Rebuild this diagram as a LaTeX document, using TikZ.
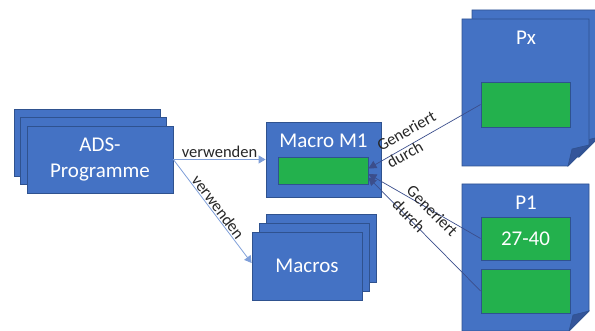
\documentclass[tikz,border=0pt]{standalone}
\usepackage{fontspec}
\setmainfont{Carlito}
\usepackage{xcolor}
\definecolor{OfficeBlue}{HTML}{4472C4}
\definecolor{OfficeEdge}{HTML}{2F528F}
\definecolor{OfficeGreen}{HTML}{23B14D}
\definecolor{UseLine}{HTML}{7F9FD9}
\definecolor{GenLine}{HTML}{3B4E8C}
\definecolor{FoldBlue}{HTML}{34559A}
\usetikzlibrary{arrows.meta,positioning,calc}

\begin{document}
\begin{tikzpicture}[x=1pt,y=-1pt,>=Triangle,
block/.style={draw=OfficeEdge,line width=0.8pt,fill=OfficeBlue,text=white,align=center,inner sep=0pt,font=\fontsize{21}{26}\selectfont},
field/.style={draw=OfficeEdge,line width=0.8pt,fill=OfficeGreen,text=white,minimum width=89pt,inner sep=0pt,font=\fontsize{21}{26}\selectfont},
page/.style={draw=OfficeEdge,line width=0.8pt,fill=OfficeBlue},
fold/.style={draw=OfficeEdge,line width=0.6pt,fill=FoldBlue},
uses/.style={draw=UseLine,line width=0.8pt,-{Triangle[length=7pt,width=8pt]}},
gen/.style={draw=GenLine,line width=0.7pt,-{Triangle[length=8pt,width=8pt]}},
rel/.style={font=\fontsize{16.5}{20}\selectfont,text=black!85,align=center,inner sep=1pt},
genrel/.style={rel,align=left}]
\clip (0,0) rectangle (595,331);

% ADS programs, stacked
\node[block,minimum width=146pt,minimum height=67pt] (adsback) at (87,142.5) {};
\node[block,minimum width=146pt,minimum height=67pt] (adsmid) at (93.5,151) {};
\node[block,minimum width=146pt,minimum height=67pt] (ads) at (100,159.5) {ADS-\\Programme};

% macro M1 with its field
\node[block,minimum width=115pt,minimum height=75pt] (m1) at (323.5,159.5) {};
\node[block,draw=none,fill=none] (m1title) at (323.5,141) {Macro M1};
\node[field,minimum width=90pt,minimum height=27pt] (m1field) at (323,170.5) {};

% macro library, stacked
\node[block,minimum width=110pt,minimum height=68pt] (macback) at (321,248) {};
\node[block,minimum width=110pt,minimum height=68pt] (macmid) at (314,257) {};
\node[block,minimum width=110pt,minimum height=68pt] (macros) at (307,266) {Macros};

% page Px (two sheets, folded corner)
\draw[page] (472,10) -- (599,10) -- (599,137) -- (579,157) -- (472,157) -- cycle;
\draw[fold] (599,137) -- (579,157) -- (583,141) -- cycle;
\draw[page] (462,19) -- (589,19) -- (589,145) -- (568,166) -- (462,166) -- cycle;
\draw[fold] (589,145) -- (568,166) -- (572,149) -- cycle;
\node[block,draw=none,fill=none] (pxtitle) at (526,37.5) {Px};
\node[field,minimum height=45pt] (pxfield) at (525.5,104.5) {};

% page P1
\draw[page] (462,184) -- (589,184) -- (589,311) -- (569,331) -- (462,331) -- cycle;
\draw[fold] (589,311) -- (569,331) -- (573,315) -- cycle;
\node[block,draw=none,fill=none] (p1title) at (526,203) {P1};
\node[field,minimum height=43pt] (p1a) at (525.5,238.5) {27-40};
\node[field,minimum height=44pt] (p1b) at (525.5,291) {};

% connectors
\coordinate (tipx) at ($(m1field.east)+(0,-2)$);
\coordinate (tipa) at ($(m1field.east)+(0,3.5)$);
\coordinate (tipb) at ($(m1field.east)+(0,7)$);
\draw[uses] (ads.east) -- node[rel,above]{verwenden} (m1.west);
\draw[uses] (ads.east) -- node[rel,sloped,above]{verwenden} ($(macros.west)+(0,-3)$);
\draw[gen] (pxfield.west) -- node[genrel,sloped,pos=0.6,above=-13pt]{Generiert\\durch} (tipx);
\draw[gen] (p1a.west) -- (tipa);
\draw[gen] (p1b.west) -- node[genrel,sloped,pos=0.57,above=-5pt]{Generiert\\durch} (tipb);
\end{tikzpicture}
\end{document}
